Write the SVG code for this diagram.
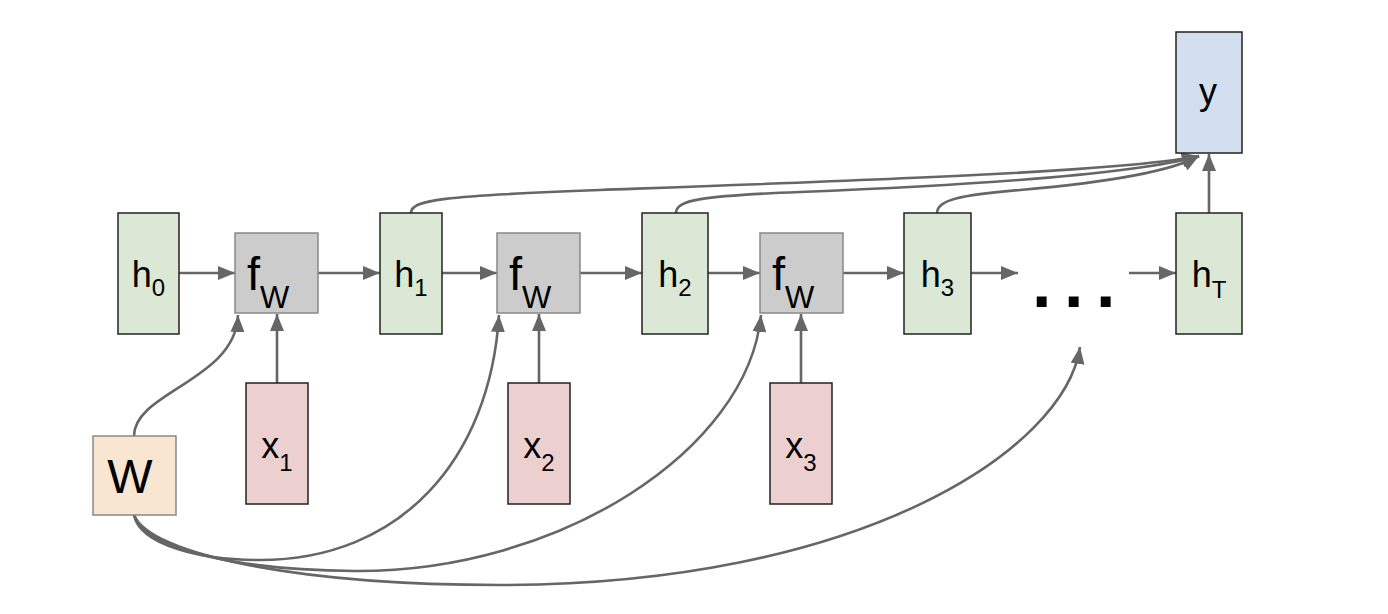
<svg xmlns="http://www.w3.org/2000/svg" width="1388" height="614" viewBox="0 0 1388 614">
<style>
.lbl{font-family:"Liberation Sans",Arial,sans-serif;fill:#000}
.h{fill:#dbe8d5;stroke:#222;stroke-width:1.5}
.f{fill:#cccccc;stroke:#888;stroke-width:1.5}
.x{fill:#eccfcf;stroke:#222;stroke-width:1.5}
.y{fill:#d3dfef;stroke:#222;stroke-width:1.5}
.w{fill:#f9e6d1;stroke:#888;stroke-width:1.5}
.c{fill:none;stroke:#666;stroke-width:2.6;marker-end:url(#ah)}
</style>
<defs>
<marker id="ah" markerUnits="userSpaceOnUse" markerWidth="18" markerHeight="14" refX="17" refY="7" orient="auto" viewBox="0 0 18 14">
<path d="M0,0 L17,7 L0,14 z" fill="#666"/>
</marker>
</defs>
<rect width="1388" height="614" fill="#fff"/>
<g id="connectors">
<path class="c" d="M179,273 L235,273"/>
<path class="c" d="M318,273 L380,273"/>
<path class="c" d="M442,273 L497,273"/>
<path class="c" d="M580,273 L642,273"/>
<path class="c" d="M708,273 L760,273"/>
<path class="c" d="M843,273 L904,273"/>
<path class="c" d="M971,273 L1018,273"/>
<path class="c" d="M1129,273 L1176,273"/>
<path class="c" d="M277,383 L277,314"/>
<path class="c" d="M539,383 L539,314"/>
<path class="c" d="M801,383 L801,314"/>
<path class="c" d="M1209,213 L1209,154"/>
<path class="c" d="M134,436 C134,392 236,380 238,315"/>
<path class="c" d="M134,515 C140,545 200,560 260,560 C400,560 490,460 499,315"/>
<path class="c" d="M134,515 C145,550 240,570 355,571 C560,572 748,450 761,315"/>
<path class="c" d="M134,515 C150,555 300,585 500,585 C860,585 1065,450 1080,347"/>
<path class="c" d="M411,213 C411,200 440,196 600,190 C850,181 1120,172 1199,156"/>
<path class="c" d="M676,213 C676,200 700,196 800,192 C950,186 1130,176 1199,156"/>
<path class="c" d="M937,213 C937,200 960,195 1020,190 C1100,183 1170,172 1199,156"/>
</g>
<g id="h0"><rect class="h" x="118" y="213" width="61" height="121"/><text class="lbl" x="148.5" y="286.7" text-anchor="middle" font-size="36">h<tspan font-size="24" dy="9.3">0</tspan></text></g>
<g id="h1"><rect class="h" x="380" y="213" width="62" height="121"/><text class="lbl" x="411" y="286.7" text-anchor="middle" font-size="36">h<tspan font-size="24" dy="9.3">1</tspan></text></g>
<g id="h2"><rect class="h" x="642" y="213" width="66" height="121"/><text class="lbl" x="675" y="286.7" text-anchor="middle" font-size="36">h<tspan font-size="24" dy="9.3">2</tspan></text></g>
<g id="h3"><rect class="h" x="904" y="213" width="67" height="121"/><text class="lbl" x="937.5" y="286.7" text-anchor="middle" font-size="36">h<tspan font-size="24" dy="9.3">3</tspan></text></g>
<g id="hT"><rect class="h" x="1176" y="213" width="66" height="121"/><text class="lbl" x="1209" y="286.7" text-anchor="middle" font-size="36">h<tspan font-size="24" dy="11.5">T</tspan></text></g>
<g id="y"><rect class="y" x="1176" y="32" width="66" height="121"/><text class="lbl" x="1208" y="104" text-anchor="middle" font-size="36">y</text></g>
<g id="fW1"><rect class="f" x="235" y="233" width="83" height="80"/><text class="lbl" x="247" y="290" font-size="47">f<tspan font-size="31" dy="18">W</tspan></text></g>
<g id="fW2"><rect class="f" x="497" y="233" width="83" height="80"/><text class="lbl" x="509" y="290" font-size="47">f<tspan font-size="31" dy="18">W</tspan></text></g>
<g id="fW3"><rect class="f" x="760" y="233" width="83" height="80"/><text class="lbl" x="772" y="290" font-size="47">f<tspan font-size="31" dy="18">W</tspan></text></g>
<g id="x1"><rect class="x" x="246" y="383" width="62" height="121"/><text class="lbl" x="277" y="458" text-anchor="middle" font-size="36">x<tspan font-size="24" dy="13">1</tspan></text></g>
<g id="x2"><rect class="x" x="508" y="383" width="62" height="121"/><text class="lbl" x="539" y="458" text-anchor="middle" font-size="36">x<tspan font-size="24" dy="13">2</tspan></text></g>
<g id="x3"><rect class="x" x="770" y="383" width="62" height="121"/><text class="lbl" x="801" y="458" text-anchor="middle" font-size="36">x<tspan font-size="24" dy="13">3</tspan></text></g>
<g id="W"><rect class="w" x="93" y="436" width="83" height="79"/><text class="lbl" x="130" y="493" text-anchor="middle" font-size="48">W</text></g>
<g id="dots"><text class="lbl" x="1032" y="307" font-size="70" font-weight="bold" letter-spacing="12.5">...</text></g>
</svg>
